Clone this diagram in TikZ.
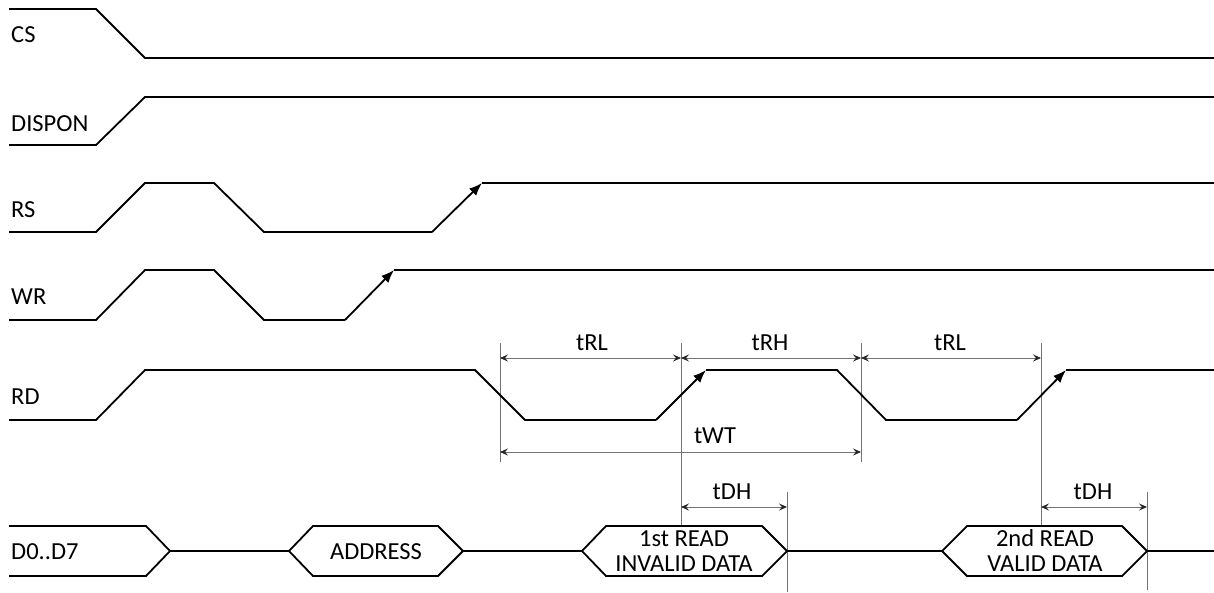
\documentclass[tikz,border=0pt]{standalone}
\usepackage{fontspec}
\setmainfont{Carlito}
\usetikzlibrary{arrows.meta}
\begin{document}
\begin{tikzpicture}[x=1pt,y=-1pt,
  sig/.style={line width=1.8pt,black,line join=miter},
  riser/.style={sig,-{Latex[length=13pt,width=10pt]}},
  guide/.style={line width=0.9pt,black!55},
  dimline/.style={line width=0.9pt,black!55,
     {Stealth[length=8pt,width=7pt,inset=3pt,color=black!85]}-{Stealth[length=8pt,width=7pt,inset=3pt,color=black!85]}},
  lbl/.style={font=\fontsize{24.5}{27}\selectfont,inner sep=0pt,text=black}
]
\useasboundingbox (0,0) rectangle (1214,592);

% guide lines
\draw[guide] (500,343) -- (500,462);
\draw[guide] (681,343) -- (681,525);
\draw[guide] (861,343) -- (861,462);
\draw[guide] (1041,343) -- (1041,525);
\draw[guide] (787,492) -- (787,592);
\draw[guide] (1147,492) -- (1147,590);

% dimension coordinates
\coordinate (g1t) at (500,358);
\coordinate (g2t) at (681,358);
\coordinate (g3t) at (861,358);
\coordinate (g4t) at (1041,358);
\coordinate (g1w) at (500,452);
\coordinate (g3w) at (861,452);
\coordinate (g2d) at (681,507);
\coordinate (g5d) at (787,507);
\coordinate (g4d) at (1041,507);
\coordinate (g6d) at (1147,507);

\draw[dimline] (g1t) -- (g2t);
\draw[dimline] (g2t) -- (g3t);
\draw[dimline] (g3t) -- (g4t);
\draw[dimline] (g1w) -- (g3w);
\draw[dimline] (g2d) -- (g5d);
\draw[dimline] (g4d) -- (g6d);

% CS
\draw[sig] (9,9) -- (96,9) -- (145,58) -- (1214,58);
% DISPON
\draw[sig] (9,145) -- (96,145) -- (145,97) -- (1214,97);
% RS
\draw[sig] (9,232) -- (96,232) -- (145,183) -- (214,183) -- (264,232) -- (432,232);
\draw[riser] (432,232) -- (482,183);
\draw[sig] (482,183) -- (1214,183);
% WR
\draw[sig] (9,320) -- (96,320) -- (145,270) -- (214,270) -- (264,320) -- (345,320);
\draw[riser] (345,320) -- (394,270);
\draw[sig] (394,270) -- (1214,270);
% RD
\draw[sig] (9,420) -- (96,420) -- (145,370) -- (475,370) -- (525,420) -- (656,420);
\draw[riser] (656,420) -- (706,370);
\draw[sig] (706,370) -- (837,370) -- (886,420) -- (1017,420);
\draw[riser] (1017,420) -- (1066,370);
\draw[sig] (1066,370) -- (1214,370);

% D0..D7 bus
\draw[sig] (9,526) -- (146,526) -- (170,551) -- (146,576) -- (9,576);
\draw[sig] (170,551) -- (289,551);
\draw[sig] (289,551) -- (313,526) -- (438,526) -- (463,551) -- (438,576) -- (313,576) -- cycle;
\draw[sig] (463,551) -- (582,551);
\draw[sig] (582,551) -- (606,526) -- (762,526) -- (787,551) -- (762,576) -- (606,576) -- cycle;
\draw[sig] (787,551) -- (942,551);
\draw[sig] (942,551) -- (967,526) -- (1122,526) -- (1147,551) -- (1122,576) -- (967,576) -- cycle;
\draw[sig] (1147,551) -- (1214,551);

% signal labels
\node[lbl,anchor=base west] (cs) at (11,42) {CS};
\node[lbl,anchor=base west] (dispon) at (11,131) {DISPON};
\node[lbl,anchor=base west] (rs) at (11,217) {RS};
\node[lbl,anchor=base west] (wr) at (11,304) {WR};
\node[lbl,anchor=base west] (rd) at (11,404) {RD};
\node[lbl,anchor=base west] (d07) at (11,559) {D0..D7};

% bus labels
\node[lbl,anchor=base] (addr) at (376,559) {ADDRESS};
\node[lbl,anchor=base] (r1a) at (684,546) {1st READ};
\node[lbl,anchor=base] (r1b) at (684,571) {INVALID DATA};
\node[lbl,anchor=base] (r2a) at (1045,546) {2nd READ};
\node[lbl,anchor=base] (r2b) at (1045,571) {VALID DATA};

% timing labels
\node[lbl,anchor=base] (trl1) at (592,350) {tRL};
\node[lbl,anchor=base] (trh) at (770,350) {tRH};
\node[lbl,anchor=base] (trl2) at (950,350) {tRL};
\node[lbl,anchor=base] (twt) at (715,443) {tWT};
\node[lbl,anchor=base] (tdh1) at (732,499) {tDH};
\node[lbl,anchor=base] (tdh2) at (1093,499) {tDH};
\end{tikzpicture}
\end{document}
